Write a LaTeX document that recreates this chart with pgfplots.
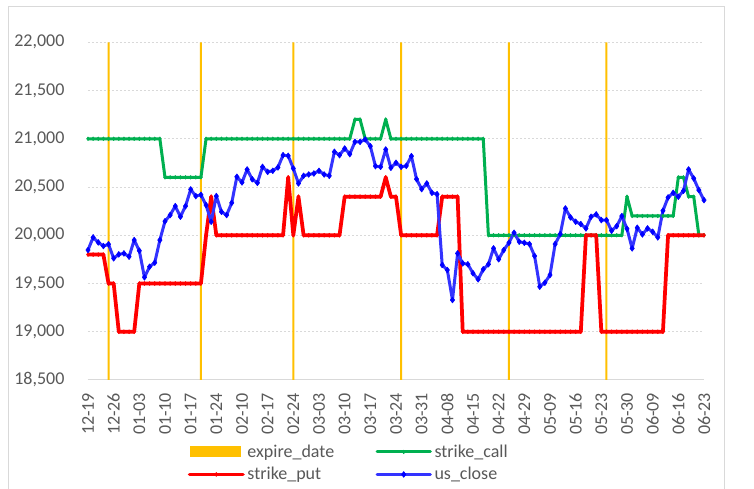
\documentclass[border=0pt]{standalone}
\usepackage{fontspec}
\setmainfont{Carlito}
\usepackage{pgfplots}
\usepackage{pgfplotstable}
\pgfplotsset{compat=1.18}
\definecolor{expc}{HTML}{FFC000}
\definecolor{callc}{HTML}{00B050}
\definecolor{putc}{HTML}{FF0000}
\definecolor{closec}{HTML}{3333FF}
\definecolor{closem}{HTML}{0000FF}
\definecolor{gridc}{HTML}{D9D9D9}
\definecolor{textc}{HTML}{595959}
\pgfplotsset{
  lineleg/.style={legend image code/.code={\draw[mark repeat=2, mark phase=2, ##1] plot coordinates {(0pt,0pt) (20pt,0pt) (40pt,0pt)};}},
  barleg/.style={legend image code/.code={\fill[expc] (0pt,-4.1pt) rectangle (38.8pt,4.1pt);}},
}

\pgfplotstableread{
u call put close
0 21000 19800 19847
1 21000 19800 19978
2 21000 19800 19926
3 21000 19800 19888
4 21000 19500 19906
5 21000 19500 19761
6 21000 19000 19802
7 21000 19000 19812
8 21000 19000 19778
9 21000 19000 19950
10 21000 19500 19840
11 21000 19500 19564
12 21000 19500 19674
13 21000 19500 19716
14 21000 19500 19950
15 20600 19500 20145
16 20600 19500 20209
17 20600 19500 20302
18 20600 19500 20192
19 20600 19500 20302
20 20600 19500 20475
21 20600 19500 20406
22 20600 19500 20419
23 21000 20000 20313
24 21000 20400 20140
25 21000 20000 20406
26 21000 20000 20243
27 21000 20000 20209
28 21000 20000 20336
29 21000 20000 20606
30 21000 20000 20548
31 21000 20000 20682
32 21000 20000 20580
33 21000 20000 20543
34 21000 20000 20709
35 21000 20000 20657
36 21000 20000 20668
37 21000 20000 20703
38 21000 20000 20830
39 21000 20600 20823
40 21000 20000 20692
41 21000 20400 20537
42 21000 20000 20616
43 21000 20000 20630
44 21000 20000 20640
45 21000 20000 20668
46 21000 20000 20630
47 21000 20000 20616
48 21000 20000 20865
49 21000 20000 20830
50 21000 20400 20899
51 21000 20400 20841
52 21200 20400 20968
53 21200 20400 20968
54 21000 20400 20993
55 21000 20400 20923
56 21000 20400 20716
57 21000 20400 20709
58 21200 20600 20889
59 21000 20400 20699
60 21000 20400 20751
61 21000 20000 20709
62 21000 20000 20719
63 21000 20000 20820
64 21000 20000 20582
65 21000 20000 20478
66 21000 20000 20537
67 21000 20000 20440
68 21000 20000 20426
69 21000 20400 19692
70 21000 20400 19640
71 21000 20400 19329
72 21000 20400 19812
73 21000 19000 19709
74 21000 19000 19699
75 21000 19000 19606
76 21000 19000 19543
77 21000 19000 19647
78 20000 19000 19699
79 20000 19000 19864
80 20000 19000 19751
81 20000 19000 19847
82 20000 19000 19922
83 20000 19000 20026
84 20000 19000 19933
85 20000 19000 19922
86 20000 19000 19909
87 20000 19000 19785
88 20000 19000 19467
89 20000 19000 19508
90 20000 19000 19588
91 20000 19000 19909
92 20000 19000 20012
93 20000 19000 20278
94 20000 19000 20185
95 20000 19000 20140
96 20000 19000 20116
97 20000 20000 20071
98 20000 20000 20192
99 20000 20000 20216
100 20000 19000 20157
101 20000 19000 20157
102 20000 19000 20047
103 20000 19000 20095
104 20000 19000 20199
105 20400 19000 20067
106 20200 19000 19864
107 20200 19000 20078
108 20200 19000 20009
109 20200 19000 20071
110 20200 19000 20036
111 20200 19000 19978
112 20200 19000 20254
113 20200 20000 20392
114 20200 20000 20440
115 20600 20000 20399
116 20600 20000 20461
117 20400 20000 20682
118 20400 20000 20589
119 20000 20000 20468
120 20000 20000 20364
}\data

\pgfplotstableread{
u expire
4 22000
22 22000
40 22000
61 22000
82 22000
101 22000
}\expdata

\begin{document}
\begin{tikzpicture}
\useasboundingbox (0,0) rectangle (565.5pt,366.75pt);
\fill[white] (0,0) rectangle (565.5pt,366.75pt);
\draw[gridc, line width=0.75pt] (6pt,-2pt) -- (6pt,361.5pt) -- (543pt,361.5pt) -- (543pt,-2pt);
\begin{axis}[
  at={(66pt,81.75pt)}, anchor=south west,
  scale only axis, width=462pt, height=253.3pt,
  xmin=0, xmax=120, ymin=18500, ymax=22000,
  enlargelimits=false,
  axis x line*=bottom, axis y line*=left,
  x axis line style={gridc, line width=0.75pt},
  y axis line style={draw=none},
  major tick length=0pt,
  ymajorgrids, grid style={gridc, line width=0.75pt, dash pattern=on 1.5pt off 1.5pt},
  ytick={18500,19000,...,22000},
  scaled y ticks=false,
  /pgf/number format/assume math mode=true,
  yticklabel style={/pgf/number format/fixed, /pgf/number format/1000 sep={,}, font=\fontsize{13.5}{16}\selectfont, text=textc, anchor=east, inner sep=0pt},
  yticklabel shift=17.5pt,
  xtick={0,5,...,120},
  xticklabels={12-19,12-26,01-03,01-10,01-17,01-24,02-10,02-17,02-24,03-03,03-10,03-17,03-24,03-31,04-08,04-15,04-22,04-29,05-09,05-16,05-23,05-30,06-09,06-16,06-23},
  xticklabel style={rotate=90, anchor=east, font=\fontsize{13.5}{16}\selectfont, text=textc, inner sep=0pt},
  xticklabel shift=9.5pt,
  legend columns=2,
  legend cell align=left,
  legend style={draw=none, fill=none, at={(0.155,-0.175)}, anchor=north west,
    font=\fontsize{13.5}{16}\selectfont, text=textc, row sep=2pt,
    nodes={inner xsep=2pt},
    /tikz/every even column/.append style={column sep=29pt}},
]
\addplot[ybar, bar width=1.5pt, fill=expc, draw=none, barleg]
  table[x=u, y=expire] {\expdata};
\addlegendentry{expire\_date}
\addplot[callc, line width=2.25pt, line join=round, line cap=round, mark=diamond*, mark size=1.4pt, mark options={solid, fill=callc, line width=0.4pt}, lineleg]
  table[x=u, y=call] {\data};
\addlegendentry{strike\_call}
\addplot[putc, line width=2.8pt, line join=round, line cap=round, mark=diamond*, mark size=1.5pt, mark options={solid, fill=putc, line width=0.4pt}, lineleg]
  table[x=u, y=put] {\data};
\addlegendentry{strike\_put}
\addplot[closec, line width=2.25pt, line join=round, line cap=round, mark=diamond*, mark size=2.2pt, mark options={solid, draw=closem, fill=closem, line width=0.4pt}, lineleg]
  table[x=u, y=close] {\data};
\addlegendentry{us\_close}
\end{axis}
\end{tikzpicture}
\end{document}
